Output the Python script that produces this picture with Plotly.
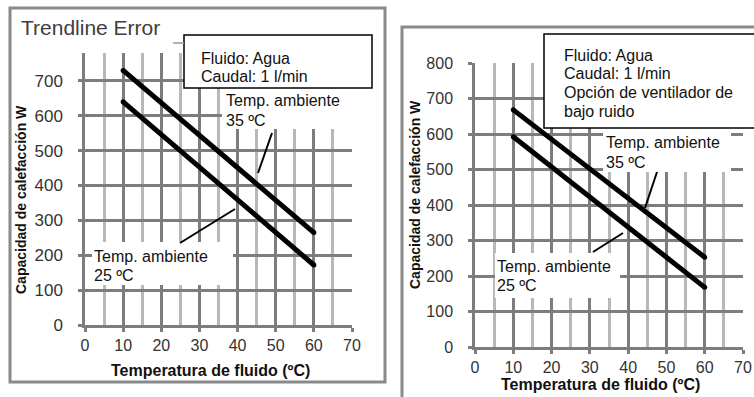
import plotly.graph_objects as go

W, H = 754, 397
FONT = "Liberation Sans, Arial, sans-serif"

# ---- data ----
temp_fluido = [10, 60]
left_35 = [730, 265]
left_25 = [640, 172]
right_35 = [668, 253]
right_25 = [592, 168]

x_ticks = [0, 10, 20, 30, 40, 50, 60, 70]
left_y_ticks = [0, 100, 200, 300, 400, 500, 600, 700]
right_y_ticks = [0, 100, 200, 300, 400, 500, 600, 700, 800]

title_left = "Trendline Error"
x_title = "Temperatura de fluido (ºC)"
y_title = "Capacidad de calefacción W"
box_left = ["Fluido: Agua", "Caudal: 1 l/min"]
box_right = ["Fluido: Agua", "Caudal: 1 l/min", "Opción de ventilador de", "bajo ruido"]
lab35 = ["Temp. ambiente", "35 ºC"]
lab25 = ["Temp. ambiente", "25 ºC"]


def px(x):
    return x / W


def py(y):
    return 1 - y / H


MAJ = "#7d7d7d"
MIN = "#b8b8b8"
FRAME = "#8a8a8a"

fig = go.Figure()
for xs, ys, xa, ya in [
    (temp_fluido, left_35, "x", "y"),
    (temp_fluido, left_25, "x", "y"),
    (temp_fluido, right_35, "x2", "y2"),
    (temp_fluido, right_25, "x2", "y2"),
]:
    fig.add_trace(go.Scatter(x=xs, y=ys, mode="lines+markers", xaxis=xa, yaxis=ya,
                             line=dict(color="black", width=5),
                             marker=dict(color="black", size=5, line=dict(width=0)),
                             showlegend=False, hoverinfo="skip"))

def xaxis(domain, fs):
    return dict(domain=domain, range=[0, 70], tickvals=x_ticks, showgrid=True,
                gridcolor=MAJ, gridwidth=2.5, showline=True, linecolor=MAJ,
                linewidth=2.5, ticks="outside", ticklen=4, tickwidth=2.5,
                tickcolor=MAJ, zeroline=False, fixedrange=True, automargin=False,
                tickfont=dict(family=FONT, size=fs, color="#333"),
                ticklabelstandoff=0,
                minor=dict(dtick=5, tick0=0, showgrid=True, gridcolor=MIN,
                           gridwidth=2.5, ticks=""))

def yaxis(domain, rng, tv, fs):
    return dict(domain=domain, range=rng, tickvals=tv, showgrid=True,
                gridcolor=MAJ, gridwidth=2.5, showline=True, linecolor=MAJ,
                linewidth=2.5, ticks="outside", ticklen=4, tickwidth=2.5,
                tickcolor=MAJ, zeroline=False, fixedrange=True, automargin=False,
                tickfont=dict(family=FONT, size=fs, color="#333"),
                ticklabelstandoff=12)

layout = dict(
    width=W, height=H, margin=dict(l=0, r=0, t=0, b=0, pad=0, autoexpand=False),
    paper_bgcolor="white", plot_bgcolor="white", showlegend=False,
    xaxis=xaxis([px(85), px(352)], 16),
    yaxis=yaxis([py(325), py(53)], [0, 780], left_y_ticks, 17),
    xaxis2=xaxis([px(475), px(743)], 16),
    yaxis2=yaxis([py(347), py(63)], [0, 800], right_y_ticks, 16),
)
layout["xaxis2"]["anchor"] = "y2"
layout["yaxis2"]["anchor"] = "x2"
fig.update_layout(**layout)

shapes = []
# panel frames
shapes.append(dict(type="rect", xref="paper", yref="paper", x0=px(10), x1=px(385),
                   y0=py(382), y1=py(8), line=dict(color=FRAME, width=3), layer="above"))
shapes.append(dict(type="rect", xref="paper", yref="paper", x0=px(402), x1=px(775),
                   y0=py(415), y1=py(27), line=dict(color=FRAME, width=3), layer="above"))
# white label backgrounds
for (x0, y0, x1, y1) in [(222, 88, 356, 129), (92, 242, 233, 285),
                         (603, 128, 731, 172), (495, 253, 620, 298)]:
    shapes.append(dict(type="rect", xref="paper", yref="paper", x0=px(x0), x1=px(x1),
                       y0=py(y1), y1=py(y0), fillcolor="white", line=dict(width=0),
                       layer="above"))
# bordered info boxes
for (x0, y0, x1, y1) in [(184, 35, 372, 88), (544, 34, 770, 128)]:
    shapes.append(dict(type="rect", xref="paper", yref="paper", x0=px(x0), x1=px(x1),
                       y0=py(y1), y1=py(y0), fillcolor="white",
                       line=dict(color="black", width=1.5), layer="above"))
# leader lines
for (x0, y0, x1, y1) in [(272, 133, 258, 173), (180, 243, 235, 209),
                         (657, 172, 645, 208), (593, 252, 623, 233)]:
    shapes.append(dict(type="line", xref="paper", yref="paper", x0=px(x0), x1=px(x1),
                       y0=py(y0), y1=py(y1), line=dict(color="black", width=2),
                       layer="above"))
shapes.append(dict(type="line", xref="paper", yref="paper", x0=px(173), x1=px(184),
                   y0=py(43), y1=py(43), line=dict(color="#999", width=1.5), layer="above"))
fig.update_layout(shapes=shapes)

ann = []

def text(x, y, s, size=16, color="#111", bold=False, anchor="left", angle=0):
    ann.append(dict(xref="paper", yref="paper", x=px(x), y=py(y), text=("<b>%s</b>" % s) if bold else s,
                    showarrow=False, xanchor=anchor, yanchor="middle", textangle=angle,
                    borderpad=0, font=dict(family=FONT, size=size, color=color)))

text(20, 27, title_left, size=21, color="#404040")
for i, s in enumerate(box_left):
    text(200, 58 + 19 * i, s)
for i, s in enumerate(lab35):
    text(225, 101 + 19 * i, s)
for i, s in enumerate(lab25):
    text(93, 256 + 19 * i, s)
for i, s in enumerate(box_right):
    text(563, 55 + 18.7 * i, s)
for i, s in enumerate(lab35):
    text(605, 142 + 20 * i, s)
for i, s in enumerate(lab25):
    text(496, 266 + 19 * i, s)

text(210, 370, x_title, size=16, bold=True, anchor="center")
text(600, 384, x_title, size=16, bold=True, anchor="center")
text(21, 200, y_title, size=14, bold=True, anchor="center", angle=-90)
text(415, 195, y_title, size=14, bold=True, anchor="center", angle=-90)

fig.update_layout(annotations=ann)
fig.write_html("out.html", post_script="document.body.style.margin='0';",
               config={"displayModeBar": False})
